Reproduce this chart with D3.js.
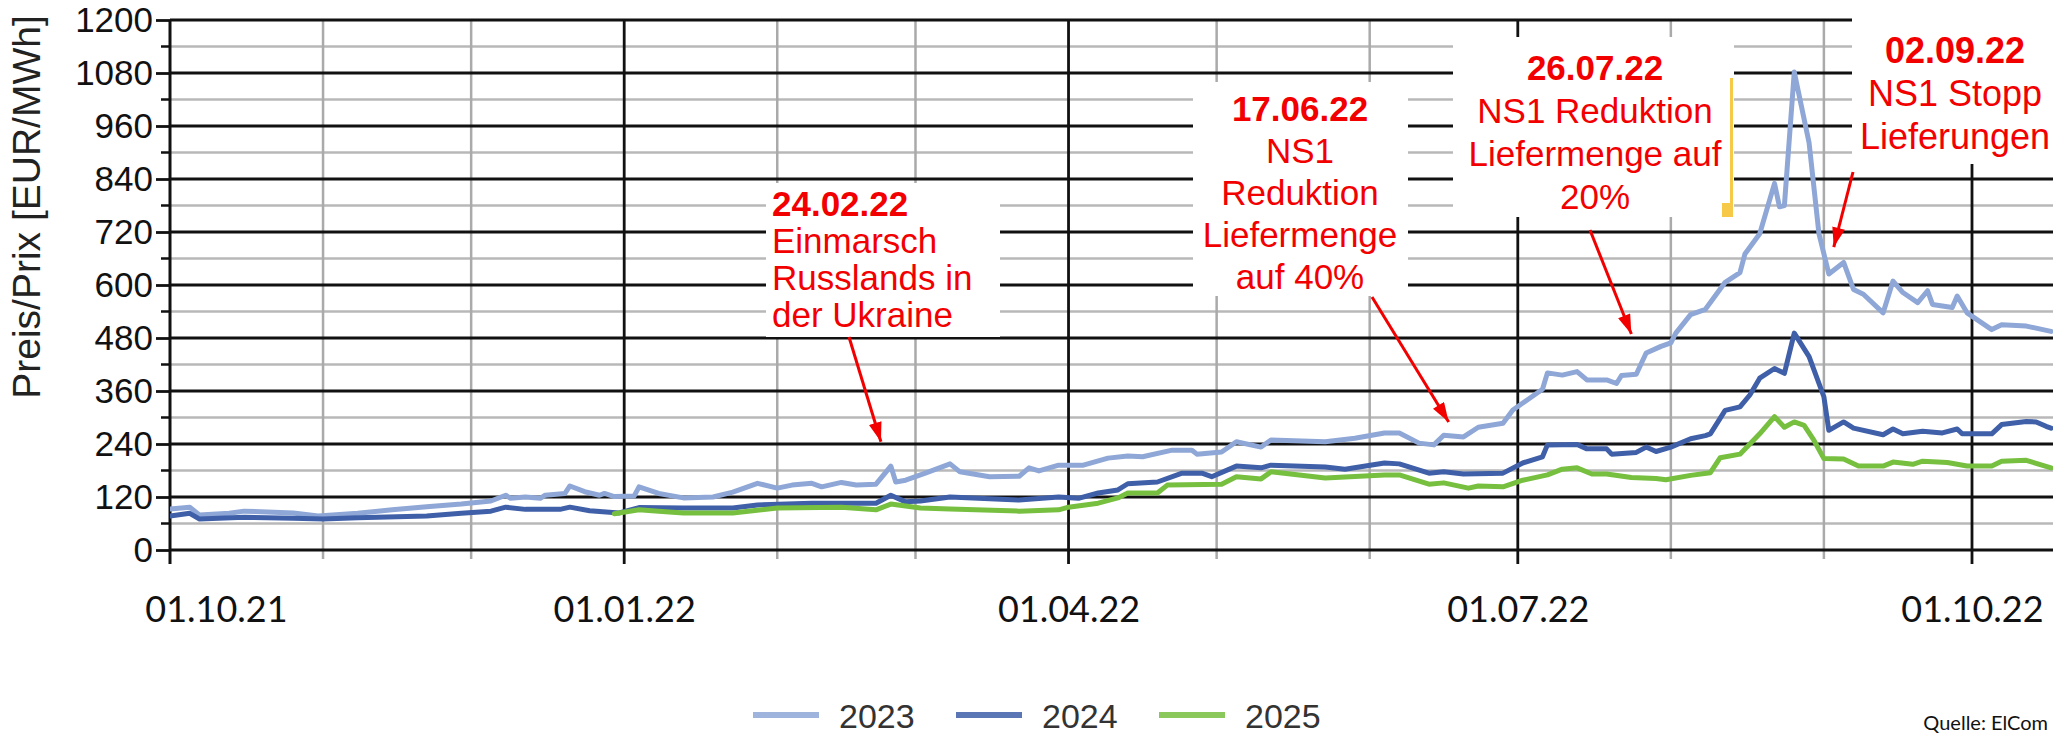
<!DOCTYPE html>
<html>
<head>
<meta charset="utf-8">
<script src="https://cdnjs.cloudflare.com/ajax/libs/d3/7.8.5/d3.min.js"></script>
<style>
  body { margin: 0; background: #fff; }
  svg { display: block; }
</style>
</head>
<body>
<div id="chart-area"></div>
<script>
// ---- data ----
var seriesNames = ["2023", "2024", "2025"];

var d2023 = [
  ["2021-10-01",93],["2021-10-05",97],["2021-10-07",79],["2021-10-13",83],["2021-10-16",88],["2021-10-26",84],
  ["2021-10-31",77],["2021-11-08",83],["2021-11-15",91],["2021-11-22",98],["2021-11-29",104],["2021-12-05",111],
  ["2021-12-08",124],["2021-12-09",117],["2021-12-12",120],["2021-12-15",117],["2021-12-16",124],["2021-12-20",128],
  ["2021-12-21",145],["2021-12-24",132],["2021-12-27",124],["2021-12-28",128],["2021-12-30",121],["2022-01-03",122],
  ["2022-01-04",143],["2022-01-08",128],["2022-01-13",118],["2022-01-19",120],["2022-01-23",131],["2022-01-28",151],
  ["2022-02-01",140],["2022-02-04",147],["2022-02-08",151],["2022-02-10",143],["2022-02-14",153],["2022-02-17",147],
  ["2022-02-21",149],["2022-02-24",190],["2022-02-25",154],["2022-02-27",158],["2022-03-03",174],["2022-03-08",195],
  ["2022-03-10",177],["2022-03-16",166],["2022-03-22",167],["2022-03-24",186],["2022-03-26",179],["2022-03-30",192],
  ["2022-04-04",192],["2022-04-09",208],["2022-04-13",213],["2022-04-16",211],["2022-04-22",226],["2022-04-26",226],
  ["2022-04-27",217],["2022-05-02",222],["2022-05-05",245],["2022-05-10",233],["2022-05-12",249],["2022-05-23",245],
  ["2022-05-29",253],["2022-06-04",265],["2022-06-07",265],["2022-06-11",242],["2022-06-14",238],["2022-06-16",260],
  ["2022-06-20",256],["2022-06-23",278],["2022-06-28",287],["2022-06-30",317],["2022-07-06",364],["2022-07-07",401],
  ["2022-07-10",396],["2022-07-13",404],["2022-07-15",385],["2022-07-19",385],["2022-07-21",377],["2022-07-22",395],
  ["2022-07-25",398],["2022-07-27",446],["2022-07-30",461],["2022-08-01",469],["2022-08-02",491],["2022-08-05",533],
  ["2022-08-08",545],["2022-08-12",606],["2022-08-15",628],["2022-08-16",670],["2022-08-19",716],["2022-08-22",830],
  ["2022-08-23",777],["2022-08-24",780],["2022-08-26",1082],["2022-08-29",922],["2022-08-31",716],["2022-09-02",625],
  ["2022-09-05",651],["2022-09-07",590],["2022-09-09",579],["2022-09-13",537],["2022-09-15",609],["2022-09-17",583],
  ["2022-09-20",560],["2022-09-22",587],["2022-09-23",556],["2022-09-27",549],["2022-09-28",575],["2022-09-30",537],
  ["2022-10-05",499],["2022-10-07",510],["2022-10-12",507],["2022-10-17",495]
];

var d2024 = [
  ["2021-10-01",77],["2021-10-05",83],["2021-10-07",70],["2021-10-16",74],["2021-10-26",72],["2021-11-01",70],
  ["2021-11-08",73],["2021-11-22",77],["2021-11-29",83],["2021-12-05",88],["2021-12-08",97],["2021-12-12",92],
  ["2021-12-19",92],["2021-12-21",97],["2021-12-25",89],["2021-12-31",84],["2022-01-04",96],["2022-01-13",95],
  ["2022-01-23",95],["2022-01-28",102],["2022-02-08",106],["2022-02-21",106],["2022-02-24",124],["2022-02-27",109],
  ["2022-03-02",111],["2022-03-08",120],["2022-03-22",113],["2022-03-30",120],["2022-04-03",117],["2022-04-07",129],
  ["2022-04-11",136],["2022-04-13",150],["2022-04-19",154],["2022-04-24",174],["2022-04-28",174],["2022-04-30",166],
  ["2022-05-05",190],["2022-05-10",186],["2022-05-12",192],["2022-05-23",188],["2022-05-27",183],["2022-06-04",197],
  ["2022-06-07",195],["2022-06-13",174],["2022-06-16",177],["2022-06-20",172],["2022-06-28",174],["2022-07-02",197],
  ["2022-07-06",211],["2022-07-07",238],["2022-07-13",239],["2022-07-15",229],["2022-07-19",229],["2022-07-20",217],
  ["2022-07-25",221],["2022-07-27",233],["2022-07-29",223],["2022-08-01",233],["2022-08-05",252],["2022-08-08",259],
  ["2022-08-09",263],["2022-08-12",316],["2022-08-15",324],["2022-08-17",351],["2022-08-19",389],["2022-08-22",411],
  ["2022-08-24",400],["2022-08-26",491],["2022-08-29",438],["2022-09-01",347],["2022-09-02",271],["2022-09-05",290],
  ["2022-09-07",276],["2022-09-13",261],["2022-09-15",274],["2022-09-17",263],["2022-09-21",269],["2022-09-25",265],
  ["2022-09-28",274],["2022-09-29",263],["2022-10-05",263],["2022-10-07",284],["2022-10-12",291],["2022-10-14",290],
  ["2022-10-16",280],["2022-10-17",276]
];

var d2025 = [
  ["2021-12-30",82],["2022-01-04",91],["2022-01-08",88],["2022-01-13",84],["2022-01-23",84],["2022-02-01",95],
  ["2022-02-14",97],["2022-02-21",91],["2022-02-24",104],["2022-03-02",95],["2022-03-08",93],["2022-03-22",88],
  ["2022-03-30",91],["2022-04-01",97],["2022-04-07",106],["2022-04-11",118],["2022-04-13",129],["2022-04-19",129],
  ["2022-04-21",147],["2022-05-02",149],["2022-05-05",166],["2022-05-10",161],["2022-05-12",177],["2022-05-23",163],
  ["2022-06-04",170],["2022-06-07",170],["2022-06-13",149],["2022-06-16",152],["2022-06-21",140],["2022-06-23",145],
  ["2022-06-28",143],["2022-07-02",158],["2022-07-07",170],["2022-07-10",183],["2022-07-13",186],["2022-07-16",172],
  ["2022-07-19",172],["2022-07-24",164],["2022-07-29",162],["2022-07-31",159],["2022-08-05",169],["2022-08-09",175],
  ["2022-08-11",209],["2022-08-15",217],["2022-08-17",240],["2022-08-19",263],["2022-08-22",302],["2022-08-24",278],
  ["2022-08-26",290],["2022-08-28",282],["2022-08-30",248],["2022-09-01",207],["2022-09-05",206],["2022-09-08",190],
  ["2022-09-13",190],["2022-09-15",199],["2022-09-19",194],["2022-09-21",201],["2022-09-26",198],["2022-09-30",190],
  ["2022-10-05",190],["2022-10-07",201],["2022-10-12",203],["2022-10-17",186]
];

var yTicks = [0, 120, 240, 360, 480, 600, 720, 840, 960, 1080, 1200];
var xTickDates = ["2021-10-01", "2022-01-01", "2022-04-01", "2022-07-01", "2022-10-01"];

// event notes: bold date, text lines, arrow tip (date, value)
var notes = [
  { title: "24.02.22", lines: ["Einmarsch", "Russlands in", "der Ukraine"], tip: ["2022-02-22", 245] },
  { title: "17.06.22", lines: ["NS1", "Reduktion", "Liefermenge", "auf 40%"], tip: ["2022-06-17", 290] },
  { title: "26.07.22", lines: ["NS1 Reduktion", "Liefermenge auf", "20%"], tip: ["2022-07-24", 489] },
  { title: "02.09.22", lines: ["NS1 Stopp", "Lieferungen"], tip: ["2022-09-03", 686] }
];

// ---- layout ----
var W = 2053, H = 737;
var colors = { "2023": "#8fa7d6", "2024": "#3f5fa8", "2025": "#76bf3f" };
var red = "#f20000";

// box placement per note (px)
var boxes = [
  { x: 766, y: 183, w: 234, h: 154, anchor: "start", tx: 772, base: 216, pitch: 37, size: 35, from: [849, 337] },
  { x: 1193, y: 82, w: 215, h: 214, anchor: "middle", tx: 1300, base: 121, pitch: 42, size: 35, from: [1372, 297] },
  { x: 1453, y: 37, w: 281, h: 180, anchor: "middle", tx: 1595, base: 80, pitch: 43, size: 35, from: [1590, 230] },
  { x: 1852, y: 18, w: 201, h: 146, anchor: "middle", tx: 1955, base: 63, pitch: 43, size: 36, from: [1853, 172] }
];

var svg = d3.select("#chart-area")
  .append("svg")
    .attr("width", W)
    .attr("height", H)
    .style("font-family", "'Liberation Sans', Arial, sans-serif");

var parse = d3.timeParse("%Y-%m-%d");

var x = d3.scaleTime()
  .domain([parse("2021-10-01"), parse("2022-10-01")])
  .range([170, 1972]);

var y = d3.scaleLinear()
  .domain([0, 1200])
  .range([550, 20]);

var plotLeft = x.range()[0], plotRight = W;

// minor horizontal grid (every 60, between majors)
var minor = d3.range(60, 1200, 120);
svg.append("g").selectAll("line")
  .data(minor)
  .enter().append("line")
    .attr("x1", plotLeft).attr("x2", plotRight)
    .attr("y1", function(d){ return y(d); })
    .attr("y2", function(d){ return y(d); })
    .attr("stroke", "#b8b8b8").attr("stroke-width", 2.5);

svg.append("g").selectAll("line")
  .data(minor)
  .enter().append("line")
    .attr("x1", plotLeft - 9).attr("x2", plotLeft)
    .attr("y1", function(d){ return y(d); })
    .attr("y2", function(d){ return y(d); })
    .attr("stroke", "#111").attr("stroke-width", 2.5);

// month lines
var months = d3.timeMonth.range(parse("2021-11-01"), parse("2022-10-18"));
var isQuarter = function(d){ return d.getMonth() % 3 === 0; };

svg.append("g").selectAll("line")
  .data(months.filter(function(d){ return !isQuarter(d); }))
  .enter().append("line")
    .attr("x1", function(d){ return x(d); })
    .attr("x2", function(d){ return x(d); })
    .attr("y1", y(1200)).attr("y2", y(0) + 9)
    .attr("stroke", "#aaaaaa").attr("stroke-width", 2.5);

// major horizontal grid
svg.append("g").selectAll("line")
  .data(yTicks)
  .enter().append("line")
    .attr("x1", plotLeft).attr("x2", plotRight)
    .attr("y1", function(d){ return y(d); })
    .attr("y2", function(d){ return y(d); })
    .attr("stroke", "#111").attr("stroke-width", 2.8);

// quarter lines
svg.append("g").selectAll("line")
  .data(months.filter(isQuarter))
  .enter().append("line")
    .attr("x1", function(d){ return x(d); })
    .attr("x2", function(d){ return x(d); })
    .attr("y1", y(1200)).attr("y2", y(0) + 14)
    .attr("stroke", "#111").attr("stroke-width", 2.8);

// left axis with labels
var yAxis = svg.append("g")
  .attr("transform", "translate(" + plotLeft + ",0)")
  .call(d3.axisLeft(y).tickValues(yTicks).tickFormat(d3.format("d")).tickSize(14).tickPadding(3));
yAxis.select(".domain").remove();
yAxis.selectAll("line").attr("stroke", "#111").attr("stroke-width", 2.8);
yAxis.selectAll("text")
  .attr("font-size", "35px")
  .attr("font-family", "'Liberation Sans', Arial, sans-serif")
  .attr("fill", "#111");

svg.append("line")
  .attr("x1", plotLeft).attr("x2", plotLeft)
  .attr("y1", y(1200)).attr("y2", y(0) + 14)
  .attr("stroke", "#111").attr("stroke-width", 3);

// y axis title
svg.append("text")
  .attr("transform", "translate(40,207) rotate(-90)")
  .attr("text-anchor", "middle")
  .attr("font-size", "39px")
  .attr("fill", "#222")
  .text("Preis/Prix [EUR/MWh]");

// x labels
var fmt = d3.timeFormat("%d.%m.%y");
var xAxis = svg.append("g")
  .attr("transform", "translate(0," + y(0) + ")")
  .call(d3.axisBottom(x).tickValues(xTickDates.map(parse)).tickFormat(fmt).tickSize(0));
xAxis.select(".domain").remove();
xAxis.selectAll("text")
  .attr("y", 72).attr("dy", 0)
  .attr("dx", function(d, i){ return i === 0 ? 46 : 0; })
  .attr("font-size", "36px")
  .attr("font-family", "Lato, 'Open Sans', sans-serif")
  .attr("fill", "#111");

// series
svg.append("clipPath").attr("id", "plot-clip")
  .append("rect").attr("x", plotLeft).attr("y", 0).attr("width", plotRight - plotLeft).attr("height", y(0));

var line = d3.line()
  .x(function(d){ return x(parse(d[0])); })
  .y(function(d){ return y(d[1]); });

var allSeries = [d2023, d2024, d2025];
svg.append("g").attr("clip-path", "url(#plot-clip)")
  .selectAll("path")
  .data(allSeries)
  .enter().append("path")
    .attr("d", line)
    .attr("fill", "none")
    .attr("stroke", function(d, i){ return colors[seriesNames[i]]; })
    .attr("stroke-width", 5)
    .attr("stroke-linejoin", "round")
    .attr("stroke-linecap", "round");

// arrow marker
svg.append("defs").append("marker")
  .attr("id", "arrow")
  .attr("viewBox", "0 0 12 8")
  .attr("refX", 12).attr("refY", 4)
  .attr("markerWidth", 20).attr("markerHeight", 13)
  .attr("markerUnits", "userSpaceOnUse")
  .attr("orient", "auto")
  .append("path").attr("d", "M0,0L12,4L0,8z").attr("fill", red);

// notes
var noteG = svg.append("g").selectAll("g")
  .data(notes)
  .enter().append("g");

noteG.append("rect")
  .attr("x", function(d, i){ return boxes[i].x; })
  .attr("y", function(d, i){ return boxes[i].y; })
  .attr("width", function(d, i){ return boxes[i].w; })
  .attr("height", function(d, i){ return boxes[i].h; })
  .attr("fill", "#fff");

noteG.each(function(d, i){
  var b = boxes[i];
  var t = d3.select(this).append("text")
    .attr("text-anchor", b.anchor)
    .attr("fill", red)
    .attr("font-size", b.size + "px");
  [d.title].concat(d.lines).forEach(function(s, k){
    t.append("tspan")
      .attr("x", b.tx)
      .attr("y", b.base + k * b.pitch)
      .attr("font-weight", k === 0 ? "bold" : "normal")
      .text(s);
  });
  d3.select(this).append("line")
    .attr("x1", b.from[0]).attr("y1", b.from[1])
    .attr("x2", x(parse(d.tip[0]))).attr("y2", y(d.tip[1]))
    .attr("stroke", red).attr("stroke-width", 3)
    .attr("marker-end", "url(#arrow)");
});

// small yellow mark at the edge of the third box
svg.append("rect").attr("x", 1730).attr("y", 78).attr("width", 3).attr("height", 138).attr("fill", "#f7c948");
svg.append("rect").attr("x", 1722).attr("y", 203).attr("width", 11).attr("height", 14).attr("fill", "#f7c948");

// legend
var legend = svg.append("g").selectAll("g")
  .data(seriesNames)
  .enter().append("g")
    .attr("transform", function(d, i){ return "translate(" + (753 + i * 203) + ",715)"; });

legend.append("line")
  .attr("x1", 0).attr("x2", 66)
  .attr("stroke", function(d){ return colors[d]; })
  .attr("stroke-width", 6)
  .attr("opacity", 0.85);

legend.append("text")
  .attr("x", 86).attr("y", 13)
  .attr("font-size", "34px")
  .attr("fill", "#333")
  .text(function(d){ return d; });

// source, bottom right
svg.append("text")
  .attr("x", 2048).attr("y", 730)
  .attr("text-anchor", "end")
  .attr("font-size", "20px")
  .attr("font-family", "Lato, 'Open Sans', sans-serif")
  .attr("fill", "#111")
  .text("Quelle: ElCom");
</script>
</body>
</html>
